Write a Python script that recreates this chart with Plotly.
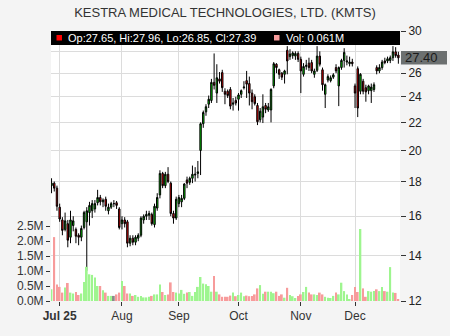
import math
import pandas as pd
import plotly.graph_objects as go

dates = [d.strftime("%Y-%m-%d") for d in pd.bdate_range("2025-06-26", "2025-12-23")]

opens = [17.75,17.9,17.6,16.5,15.8,15.3,15.6,14.9,15.5,15.3,15.0,14.9,15.4,15.7,16.2,16.3,16.4,16.75,17.05,16.8,
         16.95,16.3,16.5,16.7,16.75,16.4,15.6,15.8,15.7,14.6,14.85,14.65,14.85,15.0,15.8,16.0,16.05,16.1,15.55,16.45,
         17.2,18.5,17.75,18.45,17.9,16.15,15.9,16.7,16.8,17.0,18.1,17.95,18.2,18.4,18.5,20.0,21.9,22.8,23.4,23.7,
         25.2,24.3,25.5,26.05,24.45,24.45,24.6,23.4,23.7,23.8,24.2,24.75,25.35,25.1,24.3,24.0,23.3,22.2,22.4,23.3,
         22.95,22.95,24.9,26.8,26.3,26.0,25.9,28.1,27.5,27.6,27.55,27.8,27.25,25.9,26.6,26.9,26.95,25.9,26.25,27.55,
         26.3,24.2,25.4,25.35,25.65,26.5,24.9,26.5,27.15,27.0,26.85,27.0,24.9,26.4,24.45,25.3,24.75,24.5,24.5,24.6,
         26.5,26.2,26.5,27.1,27.1,27.15,27.4,27.95,27.65]
highs = [18.2,18.0,17.75,16.7,15.95,16.2,15.8,16.3,16.0,15.4,15.1,15.5,16.3,16.5,16.8,16.9,16.9,17.5,17.2,17.0,
         17.1,16.7,16.8,16.9,16.85,16.5,16.0,15.95,15.8,15.0,15.0,15.0,15.1,16.0,16.1,16.3,16.3,16.2,16.7,17.3,
         18.7,18.6,18.6,18.9,18.0,16.3,17.1,17.2,17.2,17.9,18.3,18.3,19.0,18.9,19.3,22.0,22.9,23.4,24.1,25.5,
         27.8,26.8,26.1,26.3,24.7,24.6,24.8,23.9,24.0,24.3,24.6,25.3,26.2,25.7,24.6,24.2,23.5,23.1,24.2,23.5,
         23.5,24.7,27.0,26.9,26.4,26.1,26.3,28.5,28.2,28.0,28.0,28.0,27.5,26.9,27.2,27.4,27.2,26.4,28.5,28.0,
         26.5,25.1,25.9,25.8,26.0,26.8,26.6,27.3,28.3,27.6,27.5,27.3,25.1,26.6,26.0,25.5,25.0,25.0,25.1,25.2,
         26.7,26.8,27.2,27.4,27.5,27.6,28.5,28.4,27.96]
lows = [17.3,17.4,16.3,15.7,15.0,15.2,14.4,14.6,15.2,14.6,14.5,14.7,15.3,13.3,15.5,15.9,16.2,16.6,16.6,16.5,
        16.3,16.1,16.4,16.5,16.4,15.3,15.3,15.4,14.4,14.45,14.5,14.5,14.7,14.9,15.6,15.8,15.8,15.5,15.4,16.3,
        17.0,17.6,17.6,17.9,16.0,15.6,15.8,16.5,16.5,16.9,17.6,17.8,17.9,18.0,18.2,18.4,21.6,22.5,23.1,23.5,
        24.6,23.5,25.1,24.4,23.4,23.9,23.0,22.9,23.3,22.9,23.9,24.6,23.9,23.3,23.0,23.3,21.8,22.0,21.95,22.7,
        22.8,22.0,24.7,26.0,25.5,25.4,25.1,25.9,27.2,27.3,27.2,27.0,24.3,25.7,26.3,26.2,26.0,25.6,26.1,26.6,
        24.5,23.1,25.2,25.2,25.5,26.0,23.25,26.3,26.5,26.7,26.6,26.6,23.1,22.4,24.2,24.2,23.6,24.2,23.5,24.4,
        25.9,26.0,26.3,26.8,26.9,26.9,27.1,27.4,26.85]
closes = [17.9,17.6,16.55,15.85,15.25,15.75,14.75,15.8,15.75,14.95,14.9,15.35,16.2,16.3,16.6,16.7,16.7,17.05,16.8,16.9,
          16.55,16.5,16.7,16.7,16.6,15.4,15.8,15.6,14.6,14.85,14.65,14.9,15.0,15.9,16.0,16.1,16.15,15.6,16.55,17.05,
          18.5,17.75,18.45,18.0,16.15,15.9,16.95,17.05,17.0,17.85,17.9,18.2,18.45,18.45,18.6,21.9,22.75,23.2,23.8,25.2,
          24.95,25.6,25.3,24.75,24.2,24.1,23.25,23.5,23.5,24.15,24.5,24.8,25.05,24.3,23.6,23.45,22.05,22.85,23.2,23.0,
          23.2,24.6,26.85,26.5,25.9,25.65,26.2,27.1,27.75,27.85,27.8,27.25,26.2,26.6,26.7,26.5,26.2,26.2,27.55,26.8,
          25.0,25.0,25.7,25.6,25.85,26.2,26.5,27.15,27.9,27.1,27.0,26.85,24.3,23.1,25.9,24.45,24.4,24.9,24.8,25.0,
          26.2,26.5,27.0,26.95,27.3,27.4,27.95,27.6,27.39]
volumes_m = [0.39,2.13,0.55,0.47,0.28,0.45,0.6,0.28,0.25,0.3,0.2,0.25,0.63,1.14,0.89,0.87,0.78,0.5,0.5,0.36,
             0.28,0.17,0.17,0.17,0.22,0.28,0.67,0.5,0.25,0.25,0.17,0.2,0.14,0.17,0.12,0.12,0.14,0.17,0.22,0.22,
             0.55,0.3,0.2,0.22,0.62,0.3,0.28,0.25,0.37,0.24,0.28,0.3,0.17,0.3,0.47,0.8,0.58,0.56,0.5,0.31,
             0.83,0.31,0.22,0.14,0.14,0.14,0.18,0.28,0.16,0.2,0.28,0.16,0.18,0.16,0.17,0.22,0.42,0.53,0.24,0.31,
             0.31,0.31,0.26,0.31,0.17,0.22,0.11,0.44,0.2,0.16,0.1,0.17,0.22,0.3,0.47,0.28,0.22,0.22,0.2,0.28,
             0.22,0.14,0.11,0.1,0.17,0.28,0.22,0.61,0.33,0.22,0.06,0.2,0.47,0.3,2.4,0.42,0.14,0.33,0.31,0.33,
             0.39,0.33,0.47,0.33,0.31,1.13,0.28,0.27,0.061]

month_labels = ["<b>Jul 25</b>", "Aug", "Sep", "Oct", "Nov", "Dec"]
month_starts = ["2025-07-01", "2025-08-01", "2025-09-01", "2025-10-01", "2025-11-03", "2025-12-01"]
price_ticks = [12, 14, 16, 18, 20, 22, 24, 26, 28, 30]
price_tick_labels = ["12", "14", "16", "18", "20", "22", "24", "26", "", "30"]
vol_ticks_m = [0.0, 0.5, 1.0, 1.5, 2.0, 2.5]
title = "KESTRA MEDICAL TECHNOLOGIES, LTD. (KMTS)"
last_price = 27.40
y_min, y_max = 12, 30

n = len(dates)
volumes = [v * 1e6 for v in volumes_m]
vcolors = []
for o, c in zip(opens, closes):
    if c > o:
        vcolors.append("#9ef58f")
    elif c < o:
        vcolors.append("#f79b9b")
    else:
        vcolors.append("#8a8a8a")

fig = go.Figure()
fig.add_trace(go.Bar(x=dates, y=volumes, marker=dict(color=vcolors, line=dict(width=0)),
                     width=0.65, yaxis="y2", hoverinfo="skip"))
fig.add_trace(go.Candlestick(x=dates, open=opens, high=highs, low=lows, close=closes,
                             increasing=dict(fillcolor="#00e600", line=dict(color="#000000", width=1)),
                             decreasing=dict(fillcolor="#ff0000", line=dict(color="#000000", width=1)),
                             whiskerwidth=0, yaxis="y"))

L, R, T, B = 51, 50, 31, 35
W, H = 450, 336
pw, ph = W - L - R, H - T - B

def px(x):
    return (x - L) / pw

def py(y):
    return (H - B - y) / ph

lp_frac = (math.log(last_price) - math.log(y_min)) / (math.log(y_max) - math.log(y_min))
lp_py = H - B - lp_frac * ph

FONT = "Liberation Sans, Arial, sans-serif"

shapes = [
    dict(type="rect", xref="paper", yref="paper", x0=0, x1=1, y0=py(45), y1=1,
         fillcolor="#000000", line=dict(width=0), layer="above"),
    dict(type="rect", xref="paper", yref="paper", x0=px(56.5), x1=px(62), y0=py(40.5), y1=py(35),
         fillcolor="#ff0000", line=dict(width=0), layer="above"),
    dict(type="rect", xref="paper", yref="paper", x0=px(274), x1=px(279.5), y0=py(40.5), y1=py(35),
         fillcolor="#f79b9b", line=dict(width=0), layer="above"),
    dict(type="rect", xref="paper", yref="paper", x0=px(401), x1=px(447), y0=py(lp_py + 6.8),
         y1=py(lp_py - 6.8), fillcolor="#6c7070", line=dict(width=0), layer="above"),
]
annotations = [
    dict(xref="paper", yref="paper", x=px(66), y=py(38), xanchor="left", yanchor="middle",
         text="Op:%.2f, Hi:%.2f, Lo:%.2f, Cl:%.2f" % (opens[-1], highs[-1], lows[-1], closes[-1]),
         showarrow=False, font=dict(color="#ffffff", size=11, family=FONT)),
    dict(xref="paper", yref="paper", x=px(284), y=py(38), xanchor="left", yanchor="middle",
         text="Vol: %.3fM" % volumes_m[-1], showarrow=False,
         font=dict(color="#ffffff", size=11, family=FONT)),
    dict(xref="paper", yref="paper", x=px(403), y=py(lp_py), xanchor="left",
         yanchor="middle", text="%.2f" % last_price, showarrow=False,
         font=dict(color="#1a1a1a", size=13, family=FONT)),
]

fig.update_layout(
    width=W, height=H,
    margin=dict(l=L, r=R, t=T, b=B),
    paper_bgcolor="#f4f4f4", plot_bgcolor="#ffffff",
    font=dict(family=FONT, size=12, color="#333333"),
    title=dict(text=title, x=0.5, xanchor="center", y=1 - 12 / H, yanchor="middle",
               font=dict(size=13, color="#333333")),
    showlegend=False,
    boxgap=0.25,
    bargap=0.3,
    shapes=shapes,
    annotations=annotations,
    xaxis=dict(type="category", range=[-0.2, n - 0.4], tickvals=month_starts, ticktext=month_labels,
               showgrid=True, gridcolor="#dcdcdc", gridwidth=1, ticks="outside", ticklen=4,
               tickcolor="#333333", rangeslider=dict(visible=False), zeroline=False,
               showline=False, tickfont=dict(size=12, color="#333333")),
    yaxis=dict(type="log", side="right", range=[math.log10(y_min), math.log10(y_max)],
               tickvals=price_ticks, ticktext=price_tick_labels,
               showgrid=True, gridcolor="#dcdcdc", gridwidth=1, ticks="outside", ticklen=5,
               tickcolor="#333333", zeroline=False, showline=False,
               tickfont=dict(size=12, color="#222222")),
    yaxis2=dict(overlaying="y", side="left", range=[0, 9e6],
                tickvals=[v * 1e6 for v in vol_ticks_m], ticktext=["%.1fM" % v for v in vol_ticks_m],
                showgrid=False, ticks="outside", ticklen=4, tickcolor="#333333", zeroline=False,
                tickfont=dict(size=12, color="#333333")),
)

fig.write_html("out.html")
